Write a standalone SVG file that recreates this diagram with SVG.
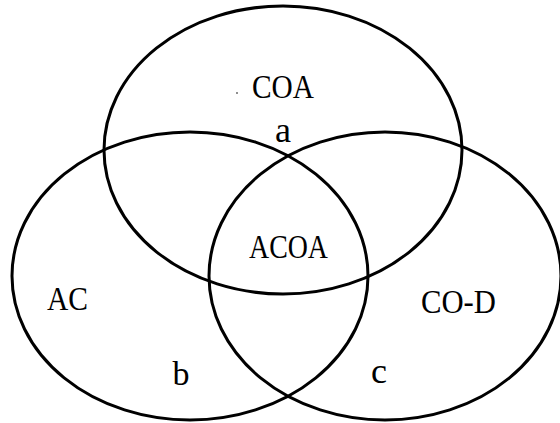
<svg xmlns="http://www.w3.org/2000/svg" width="560" height="423" viewBox="0 0 560 423">
<style>
.set{fill:none;stroke:#000;stroke-width:3}
.lbl{font-family:"Liberation Serif","Times New Roman",serif;fill:#000;text-anchor:middle}
.cap{font-size:33px}
.low{font-size:36px}
</style>
<rect width="560" height="423" fill="#fff"/>
<g id="COA">
<ellipse class="set" cx="283" cy="150" rx="179" ry="144"/>
<text class="lbl cap" x="283" y="98" textLength="62" lengthAdjust="spacingAndGlyphs">COA</text>
<circle cx="237" cy="93" r="0.8" fill="#000"/>
</g>
<g id="AC">
<ellipse class="set" cx="190" cy="276" rx="178" ry="144"/>
<text class="lbl cap" x="67.5" y="310" textLength="41" lengthAdjust="spacingAndGlyphs">AC</text>
</g>
<g id="COD">
<ellipse class="set" cx="385" cy="276" rx="176" ry="144"/>
<text class="lbl cap" x="458.5" y="313" textLength="75" lengthAdjust="spacingAndGlyphs">CO-D</text>
</g>
<g id="ACOA">
<text class="lbl cap" x="288.5" y="258" textLength="79" lengthAdjust="spacingAndGlyphs">ACOA</text>
</g>
<g id="a"><text class="lbl low" x="283" y="142">a</text></g>
<g id="b"><text class="lbl" style="font-size:34px" x="181" y="385">b</text></g>
<g id="c"><text class="lbl low" x="379" y="383">c</text></g>
<g id="connectors"></g>
</svg>
